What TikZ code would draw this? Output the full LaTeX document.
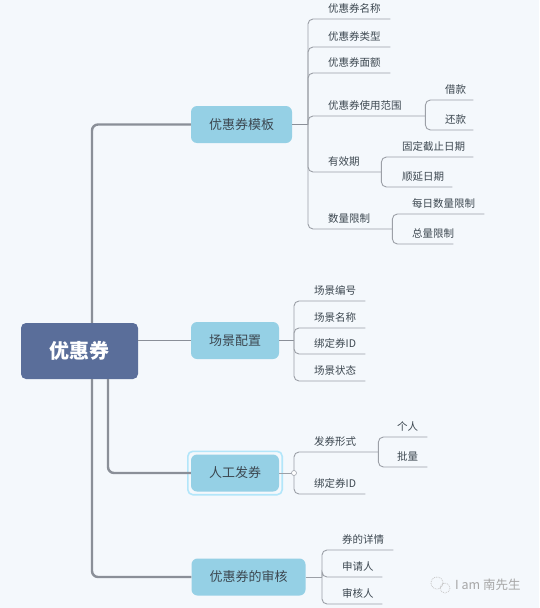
\documentclass[tikz,border=0pt]{standalone}
\usepackage{fontspec}
\setmainfont{Noto Sans CJK SC}
\usepackage{tikz}
\definecolor{sfondo}{HTML}{F4F8FC}
\definecolor{radice}{HTML}{5A6E9A}
\definecolor{ramo}{HTML}{95D0E5}
\definecolor{linea}{HTML}{8A8F98}
\definecolor{testo}{HTML}{3C4750}
\tikzset{
  root/.style={fill=radice, rounded corners=5pt, minimum width=117pt, minimum height=56pt,
    text=white, font=\fontsize{20}{22}\selectfont\bfseries},
  branch/.style={fill=ramo, rounded corners=6pt, inner xsep=18pt, minimum height=37pt,
    text=testo, font=\fontsize{13}{15}\selectfont},
  leaf/.style={anchor=south west, inner xsep=0pt, inner ysep=4.5pt, text height=9pt, text depth=2pt,
    align=left, text=testo, font=\fontsize{10.5}{12}\selectfont},
  trunk/.style={draw=linea, line width=2.4pt, rounded corners=6pt},
  twig/.style={draw=linea!85, line width=0.9pt, rounded corners=5pt}
}
\begin{document}
\begin{tikzpicture}[x=1pt, y=-1pt]
        \fill[sfondo] (0,0) rectangle (539,608);
        \useasboundingbox (0,0) rectangle (539,608);
        % rami principali
        \node[root] (root) at (79.5,351) {优惠券};
        \node[branch] (b1) at (241.5,124.5) {优惠券模板};
        \node[branch] (b2) at (235,340.5) {场景配置};
        \node[branch] (b3) at (235,473) {人工发券};
        \node[branch] (b4) at (248.5,577) {优惠券的审核};
        \draw[draw=cyan!30, line width=1.6pt, rounded corners=5pt]
          ([xshift=-3pt,yshift=-3pt]b3.south west) rectangle ([xshift=3pt,yshift=3pt]b3.north east);
        \draw[trunk] ([xshift=12.5pt]root.north) |- (b1.west);
        \draw[trunk] ([xshift=12.5pt]root.south) |- (b4.west);
        \draw[trunk] ([xshift=28.5pt]root.south) |- (b3.west);
        \draw[draw=linea, line width=1.4pt] (root.east |- b2.west) -- (b2.west);
        % foglie: 优惠券模板
        \node[leaf, text width=62pt] (a1) at (328,19) {优惠券名称};
        \node[leaf, text width=62pt] (a2) at (328,47) {优惠券类型};
        \node[leaf, text width=62pt] (a3) at (328,73) {优惠券面额};
        \node[leaf, text width=97pt] (a4) at (328,116) {优惠券使用范围};
        \node[leaf, text width=53pt] (a5) at (328,172) {有效期};
        \node[leaf, text width=64pt] (a6) at (328,229) {数量限制};
        \node[leaf, text width=28pt] (a41) at (445,100) {借款};
        \node[leaf, text width=28pt] (a42) at (445,130) {还款};
        \node[leaf, text width=71pt] (a51) at (402,157) {固定截止日期};
        \node[leaf, text width=50pt] (a52) at (402,187) {顺延日期};
        \node[leaf, text width=72pt] (a61) at (412,214) {每日数量限制};
        \node[leaf, text width=41pt] (a62) at (412,244) {总量限制};
        \coordinate (s1) at (308,124.5);
        \draw[draw=linea, line width=1.4pt] (b1.east) -- (s1);
        \foreach \l in {a1,a2,a3,a4,a5,a6} \draw[twig] (s1) |- (\l.south east);
        \foreach \l in {a41,a42} \draw[twig] (a4.south east) |- (\l.south east);
        \foreach \l in {a51,a52} \draw[twig] (a5.south east) |- (\l.south east);
        \foreach \l in {a61,a62} \draw[twig] (a6.south east) |- (\l.south east);
        % foglie: 场景配置
        \node[leaf, text width=51pt] (c1) at (314,301) {场景编号};
        \node[leaf, text width=51pt] (c2) at (314,328) {场景名称};
        \node[leaf, text width=51pt] (c3) at (314,354) {绑定券ID};
        \node[leaf, text width=51pt] (c4) at (314,381) {场景状态};
        \coordinate (s2) at (294,340.5);
        \draw[draw=linea, line width=1.4pt] (b2.east) -- (s2);
        \foreach \l in {c1,c2,c3,c4} \draw[twig] (s2) |- (\l.south east);
        % foglie: 人工发券
        \node[leaf, text width=64pt] (d1) at (314,452) {发券形式};
        \node[leaf, text width=51pt] (d2) at (314,494) {绑定券ID};
        \node[leaf, text width=30pt] (d11) at (397,437) {个人};
        \node[leaf, text width=30pt] (d12) at (397,467) {批量};
        \coordinate (s3) at (294,473);
        \draw[twig] (b3.east) -- (s3);
        \foreach \l in {d1,d2} \draw[twig] (s3) |- (\l.south east);
        \foreach \l in {d11,d12} \draw[twig] (d1.south east) |- (\l.south east);
        \draw[linea!80, fill=white, line width=0.6pt] (s3) circle (2.5);
        % foglie: 优惠券的审核
        \node[leaf, text width=51pt] (e1) at (342,550) {券的详情};
        \node[leaf, text width=40pt] (e2) at (342,577) {申请人};
        \node[leaf, text width=40pt] (e3) at (342,604) {审核人};
        \coordinate (s4) at (322,577);
        \draw[twig] (b4.east) -- (s4);
        \foreach \l in {e1,e2,e3} \draw[twig] (s4) |- (\l.south east);
        % filigrana
        \draw[gray!45, densely dotted, line width=0.8pt] (437,583) circle (6) (445,588) circle (5);
        \node[anchor=west, text=gray!70, font=\fontsize{12.5}{14}\selectfont, inner sep=0pt] (wm) at (455,585) {I am 南先生};
    \end{tikzpicture}
\end{document}
